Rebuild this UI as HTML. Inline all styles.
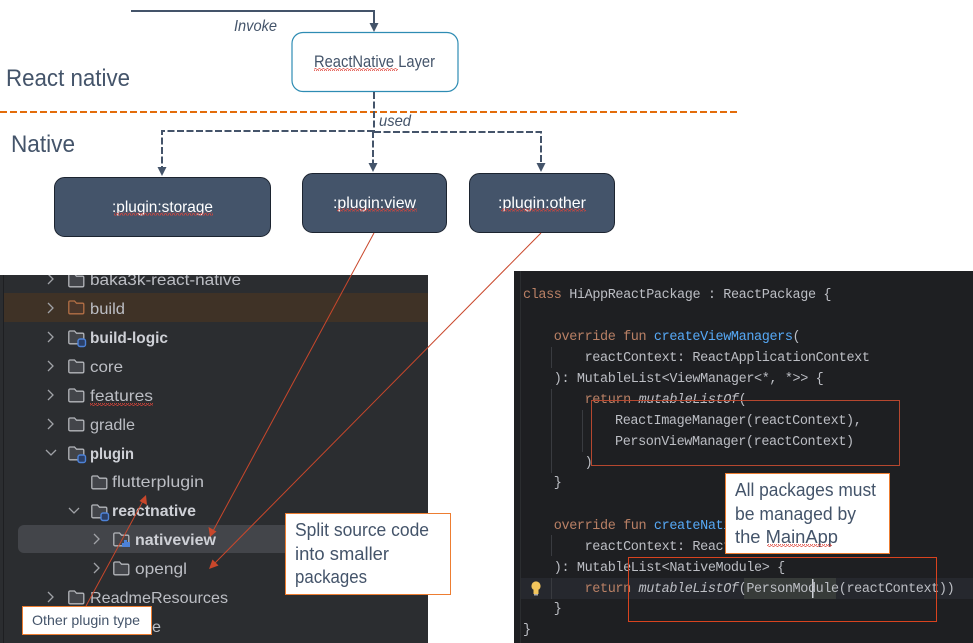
<!DOCTYPE html>
<html>
<head>
<meta charset="utf-8">
<style>
html,body{margin:0;padding:0;background:#fff;width:973px;height:643px;overflow:hidden}
svg{display:block}
.a{font-family:"Liberation Sans",sans-serif;fill:#44546a}
.w{font-family:"Liberation Sans",sans-serif;fill:#fff;font-size:16px}
.t{font-family:"Liberation Sans",sans-serif;fill:#bcbec4;font-size:16px;filter:blur(.3px)}
.b{font-weight:bold;fill:#ced0d6}
.c{font-family:"Liberation Mono",monospace;font-size:13.5px;letter-spacing:-.4px;fill:#bcbec4;white-space:pre;filter:blur(.3px)}
.k{fill:#b98065}
.f{fill:#56a8f5}
.i{font-style:italic}
</style>
</head>
<body>
<svg xmlns="http://www.w3.org/2000/svg" width="973" height="643" viewBox="0 0 973 643">
<defs>
<pattern id="sq" width="4" height="3" patternUnits="userSpaceOnUse">
<path d="M0 2.5L1 .5L2 .5L3 2.5L4 2.5" fill="none" stroke="#e0443a" stroke-width=".8"/>
</pattern>
<g id="fo">
<path d="M.8 12.5V2.2Q.8 1 2 1H6.5L8.5 3.2H14.5Q15.8 3.2 15.8 4.5V12.5Q15.8 13.8 14.5 13.8H2Q.8 13.8 .8 12.5Z" fill="#43454a" stroke="#b4b6bb" stroke-width="1.3"/>
</g>
<g id="mo"><rect x="0" y="0" width="7.5" height="7.5" rx="2" fill="#2b3f66" stroke="#4d82d8" stroke-width="1.4"/></g>
<path id="cr" d="M0 0L5 5L0 10" fill="none" stroke="#a0a2a7" stroke-width="1.3"/>
<path id="cd" d="M0 0L5 5L10 0" fill="none" stroke="#a0a2a7" stroke-width="1.3"/>
</defs>

<!-- top diagram -->
<path d="M131 11H374V25" fill="none" stroke="#44546a" stroke-width="2"/>
<path d="M369.5 23H378.5L374 32Z" fill="#44546a"/>
<text class="a i" x="234" y="31" font-size="16" textLength="43" lengthAdjust="spacingAndGlyphs">Invoke</text>
<rect x="292" y="32.5" width="166" height="59" rx="11" fill="#fff" stroke="#2e8cb3" stroke-width="1.2"/>
<text class="a" x="314" y="67" font-size="16.5" textLength="121" lengthAdjust="spacingAndGlyphs">ReactNative Layer</text>
<rect x="314" y="68" width="84" height="3" fill="url(#sq)"/>
<text class="a" x="6" y="86" font-size="24" textLength="124" lengthAdjust="spacingAndGlyphs">React native</text>
<text class="a" x="11" y="152" font-size="24" textLength="64" lengthAdjust="spacingAndGlyphs">Native</text>
<line x1="0" y1="112" x2="739" y2="112" stroke="#e36c0a" stroke-width="2" stroke-dasharray="7 3"/>
<text class="a i" x="379" y="126" font-size="16" textLength="32" lengthAdjust="spacingAndGlyphs">used</text>

<g fill="none" stroke="#44546a" stroke-width="2" stroke-dasharray="7 2.5">
<path d="M374 92V131"/>
<path d="M374 131H162V168"/>
<path d="M373 131V165"/>
<path d="M374 132H541V165"/>
</g>
<path d="M157.5 167H166.5L162 176Z" fill="#44546a"/>
<path d="M368.5 163H377.5L373 172Z" fill="#44546a"/>
<path d="M536.5 163H545.5L541 172Z" fill="#44546a"/>

<rect x="54.5" y="177.5" width="216" height="59" rx="10" fill="#44546a" stroke="#1c2430"/>
<rect x="302.5" y="173.5" width="144" height="59" rx="10" fill="#44546a" stroke="#1c2430"/>
<rect x="469.5" y="173.5" width="145" height="59" rx="10" fill="#44546a" stroke="#1c2430"/>
<text class="w" x="112" y="212" textLength="101" lengthAdjust="spacingAndGlyphs">:plugin:storage</text>
<rect x="114" y="212.5" width="99" height="3" fill="url(#sq)"/>
<text class="w" x="333" y="208" textLength="83" lengthAdjust="spacingAndGlyphs">:plugin:view</text>
<rect x="337" y="208.5" width="80" height="3" fill="url(#sq)"/>
<text class="w" x="498" y="208" textLength="88" lengthAdjust="spacingAndGlyphs">:plugin:other</text>
<rect x="501" y="208.5" width="85" height="3" fill="url(#sq)"/>

<!-- left panel -->
<rect x="0" y="275" width="428" height="368" fill="#2b2d30"/>
<rect x="3" y="275" width="1" height="368" fill="#1e1f22"/>
<rect x="4" y="293" width="424" height="29" fill="#3f3226"/>
<rect x="18" y="525" width="410" height="28" rx="6" fill="#43454a"/>

<use href="#cr" x="48" y="274"/><use href="#fo" x="68" y="273"/>
<text class="t" x="90" y="285" textLength="151" lengthAdjust="spacingAndGlyphs">baka3k-react-native</text>
<rect x="0" y="270" width="428" height="5" fill="#fff"/>

<use href="#cr" x="48" y="303"/>
<path d="M68.8 312.5V302.2Q68.8 301 70 301H74.5L76.5 303.2H82.5Q83.8 303.2 83.8 304.5V312.5Q83.8 313.8 82.5 313.8H70Q68.8 313.8 68.8 312.5Z" fill="#4a362a" stroke="#b36f45" stroke-width="1.3"/>
<text class="t" x="90" y="314" textLength="35" lengthAdjust="spacingAndGlyphs">build</text>

<use href="#cr" x="48" y="332"/><use href="#fo" x="68" y="330"/><use href="#mo" x="78" y="339"/>
<text class="t b" x="90" y="343" textLength="78" lengthAdjust="spacingAndGlyphs">build-logic</text>

<use href="#cr" x="48" y="361"/><use href="#fo" x="68" y="359"/>
<text class="t" x="90" y="372" textLength="33" lengthAdjust="spacingAndGlyphs">core</text>

<use href="#cr" x="48" y="390"/><use href="#fo" x="68" y="388"/>
<text class="t" x="90" y="401" textLength="63" lengthAdjust="spacingAndGlyphs">features</text>
<rect x="90" y="403" width="63" height="3" fill="url(#sq)"/>

<use href="#cr" x="48" y="419"/><use href="#fo" x="68" y="417"/>
<text class="t" x="90" y="430" textLength="45" lengthAdjust="spacingAndGlyphs">gradle</text>

<use href="#cd" x="46" y="450"/><use href="#fo" x="68" y="446"/><use href="#mo" x="78" y="455"/>
<text class="t b" x="90" y="459" textLength="44" lengthAdjust="spacingAndGlyphs">plugin</text>

<use href="#fo" x="91" y="475"/>
<text class="t" x="112" y="487" textLength="92" lengthAdjust="spacingAndGlyphs">flutterplugin</text>

<use href="#cd" x="69" y="508"/><use href="#fo" x="91" y="504"/><use href="#mo" x="101" y="513"/>
<text class="t b" x="112" y="516" textLength="84" lengthAdjust="spacingAndGlyphs">reactnative</text>

<use href="#cr" x="94" y="534"/><use href="#fo" x="113" y="532"/>
<path d="M122 547v-4h2v-3h3v2h3v5Z" fill="#4d82d8"/>
<text class="t b" x="135" y="545" textLength="81" lengthAdjust="spacingAndGlyphs">nativeview</text>

<use href="#cr" x="94" y="563"/><use href="#fo" x="113" y="561"/>
<text class="t" x="135" y="574" textLength="52" lengthAdjust="spacingAndGlyphs">opengl</text>

<use href="#cr" x="48" y="592"/><use href="#fo" x="68" y="590"/>
<text class="t" x="90" y="603" textLength="138" lengthAdjust="spacingAndGlyphs">ReadmeResources</text>
<text class="t" x="152" y="632" textLength="9" lengthAdjust="spacingAndGlyphs">e</text>

<!-- right panel -->
<rect x="514" y="271" width="459" height="372" fill="#1e1f22"/>
<rect x="520" y="271" width="1" height="372" fill="#2b2d30"/>
<rect x="521" y="578" width="452" height="21" fill="#26282e"/>
<rect x="744" y="578" width="92" height="21" fill="#373b39"/>
<rect x="812" y="579" width="1.5" height="19" fill="#ced0d6"/>
<g fill="#393b40">
<rect x="551" y="347" width="1" height="21"/>
<rect x="551" y="389" width="1" height="84"/>
<rect x="582" y="410" width="1" height="42"/>
<rect x="551" y="535" width="1" height="21"/>
<rect x="551" y="578" width="1" height="21"/>
</g>

<text class="c" x="523" y="298"><tspan class="k">class</tspan> HiAppReactPackage : ReactPackage {</text>
<text class="c" x="553.8" y="340"><tspan class="k">override fun</tspan> <tspan class="f">createViewManagers</tspan>(</text>
<text class="c" x="584.6" y="361">reactContext: ReactApplicationContext</text>
<text class="c" x="553.8" y="382">): MutableList&lt;ViewManager&lt;*, *&gt;&gt; {</text>
<text class="c" x="584.6" y="403"><tspan class="k">return</tspan> <tspan class="i">mutableListOf</tspan>(</text>
<text class="c" x="615" y="424">ReactImageManager(reactContext),</text>
<text class="c" x="615" y="445">PersonViewManager(reactContext)</text>
<text class="c" x="584.6" y="466">)</text>
<text class="c" x="553.8" y="486">}</text>
<text class="c" x="553.8" y="529"><tspan class="k">override fun</tspan> <tspan class="f">createNativeModules</tspan>(</text>
<text class="c" x="584.6" y="550">reactContext: ReactApplicationContext</text>
<text class="c" x="553.8" y="571">): MutableList&lt;NativeModule&gt; {</text>
<text class="c" x="584.6" y="592"><tspan class="k">return</tspan> <tspan class="i">mutableListOf</tspan>(PersonModule(reactContext))</text>
<text class="c" x="553.8" y="612">}</text>
<text class="c" x="523" y="633">}</text>

<!-- bulb -->
<circle cx="536" cy="586" r="4.6" fill="#f2c55c"/>
<rect x="533.5" y="590" width="5" height="4" fill="#f2c55c"/>
<rect x="534" y="594" width="4" height="1.5" fill="#a8a8a8"/>

<!-- red highlight boxes -->
<rect x="591.5" y="400.5" width="308" height="65" fill="none" stroke="#b5472f" stroke-width="1"/>
<rect x="628.5" y="557.5" width="308" height="64" fill="none" stroke="#d9431f" stroke-width="1"/>

<!-- callouts -->
<rect x="725.5" y="473.5" width="164" height="80" fill="#fff" stroke="#ed7d31"/>
<text class="a" font-size="18" x="735" y="496" textLength="141" lengthAdjust="spacingAndGlyphs">All packages must</text>
<text class="a" font-size="18" x="735" y="520" textLength="121" lengthAdjust="spacingAndGlyphs">be managed by</text>
<text class="a" font-size="18" x="735" y="543" textLength="103" lengthAdjust="spacingAndGlyphs">the MainApp</text>
<rect x="767" y="544" width="65" height="3" fill="url(#sq)"/>

<rect x="285.5" y="513.5" width="165" height="81" fill="#fff" stroke="#ed7d31"/>
<text class="a" font-size="18" x="295" y="536" textLength="134" lengthAdjust="spacingAndGlyphs">Split source code</text>
<text class="a" font-size="18" x="295" y="560" textLength="94" lengthAdjust="spacingAndGlyphs">into smaller</text>
<text class="a" font-size="18" x="295" y="583" textLength="72" lengthAdjust="spacingAndGlyphs">packages</text>

<!-- red arrows -->
<g stroke="#c9472b" stroke-width="1" fill="none">
<line x1="374" y1="233" x2="213" y2="531"/>
<line x1="541" y1="233" x2="214" y2="564"/>
<line x1="86" y1="606" x2="143" y2="501"/>
</g>
<path d="M210 537L208.5 527L216.5 531.5Z" fill="#c9472b"/>
<path d="M209 569L212.5 559.5L218.5 565.5Z" fill="#c9472b"/>
<path d="M146 495L147 505L139.5 501Z" fill="#c9472b"/>

<rect x="22.5" y="606.5" width="129" height="28" fill="#fff" stroke="#ed7d31"/>
<text class="a" font-size="14" x="32" y="625" textLength="108" lengthAdjust="spacingAndGlyphs">Other plugin type</text>
</svg>
</body>
</html>
